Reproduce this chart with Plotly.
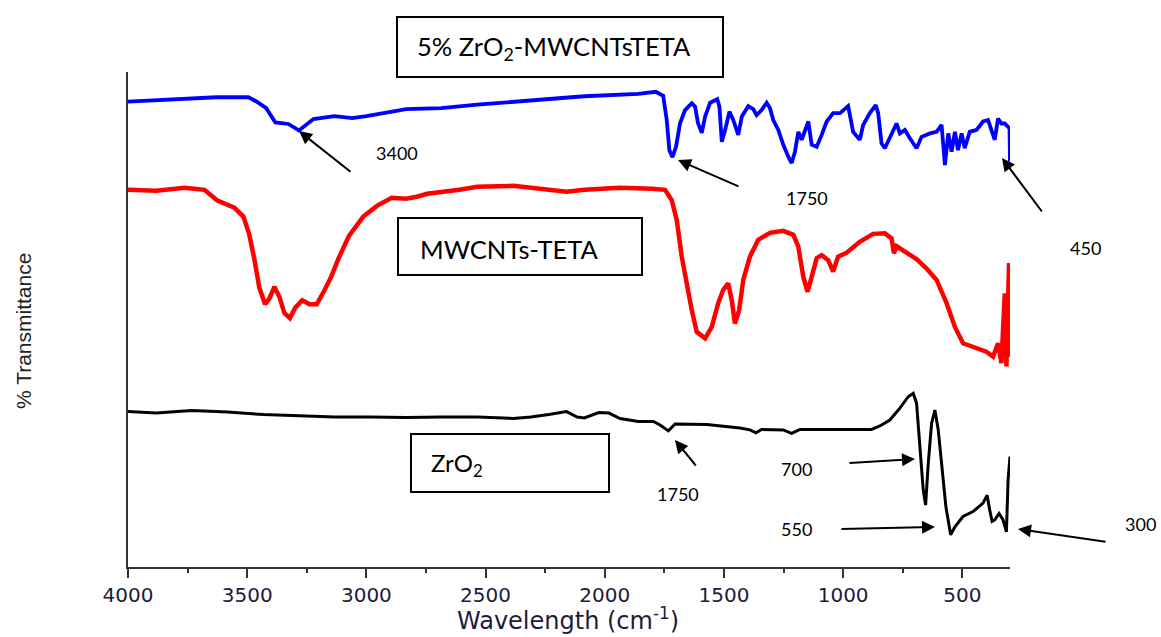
import plotly.graph_objects as go

# ---------------- data ----------------
wn_blue = [4000, 3629, 3495, 3463, 3420, 3382, 3327, 3283, 3222, 3134,
           3059, 3000, 2833, 2686, 2535, 2235, 2086, 1860, 1786, 1755,
           1740, 1729, 1716, 1701, 1684, 1663, 1635, 1621, 1609, 1593,
           1579, 1558, 1528, 1519, 1509, 1495, 1477, 1461, 1440, 1425,
           1398, 1377, 1363, 1342, 1321, 1307, 1293, 1272, 1251, 1230,
           1216, 1202, 1188, 1174, 1160, 1146, 1132, 1111, 1090, 1069,
           1042, 1013, 979, 972, 958, 930, 916, 888, 863, 853,
           839, 825, 804, 776, 762, 741, 720, 692, 671, 636,
           608, 587, 573, 559, 545, 531, 518, 503, 490, 469,
           440, 413, 392, 377, 364, 350, 336, 322, 302, 300]
t_blue = [94.0, 94.9, 94.9, 94.1, 92.7, 89.8, 89.5, 88.2, 90.5, 91.1,
          90.7, 91.1, 92.5, 92.7, 93.4, 94.5, 95.1, 95.6, 96.0, 95.2,
          90.3, 84.2, 82.8, 84.9, 89.7, 92.3, 93.7, 93.0, 89.7, 87.7,
          91.0, 93.8, 94.5, 93.0, 85.9, 88.3, 92.0, 90.3, 87.3, 91.0,
          93.1, 92.5, 91.3, 92.3, 93.8, 92.7, 90.3, 88.3, 85.3, 82.9,
          81.6, 83.9, 87.9, 86.3, 88.3, 90.0, 85.3, 84.9, 87.3, 90.0,
          91.7, 91.7, 93.1, 91.0, 87.9, 86.3, 89.3, 91.7, 93.3, 91.7,
          85.6, 84.6, 86.6, 89.6, 87.6, 88.3, 86.6, 84.6, 86.9, 87.6,
          87.9, 89.3, 81.2, 87.6, 83.9, 87.9, 84.2, 87.6, 84.6, 87.9,
          88.3, 90.0, 90.3, 88.3, 86.3, 90.6, 89.6, 89.6, 88.6, 81.9]

wn_red = [4000, 3882, 3763, 3679, 3627, 3554, 3516, 3492, 3470, 3449,
          3425, 3407, 3386, 3365, 3344, 3321, 3298, 3269, 3239, 3208,
          3178, 3148, 3118, 3073, 3013, 2954, 2894, 2834, 2789, 2745,
          2610, 2535, 2384, 2235, 2160, 2086, 1936, 1801, 1747, 1719,
          1698, 1677, 1656, 1635, 1614, 1579, 1551, 1524, 1503, 1482,
          1467, 1454, 1436, 1419, 1391, 1356, 1307, 1251, 1209, 1188,
          1167, 1149, 1132, 1111, 1090, 1063, 1042, 1021, 985, 930,
          874, 825, 797, 787, 776, 734, 692, 650, 608, 566,
          531, 497, 455, 399, 371, 350, 336, 322, 315, 304, 300]
t_red = [76.2, 76.0, 76.6, 76.2, 74.1, 72.6, 70.8, 67.3, 62.2, 56.4,
         53.1, 54.2, 56.6, 54.6, 51.3, 50.3, 52.4, 53.9, 53.1, 53.1,
         55.7, 58.6, 62.2, 66.9, 70.8, 73.0, 74.6, 74.4, 74.8, 75.4,
         76.2, 76.8, 77.0, 76.2, 75.8, 76.2, 76.6, 76.4, 76.2, 74.1,
         70.1, 62.7, 56.6, 51.9, 47.5, 46.2, 48.5, 53.3, 56.0, 57.3,
         53.9, 49.2, 51.9, 58.0, 62.7, 66.1, 67.5, 67.9, 67.1, 64.7,
         58.6, 55.6, 58.6, 62.4, 63.0, 62.0, 59.7, 62.7, 63.5, 65.7,
         67.3, 67.4, 66.4, 63.4, 64.8, 63.4, 62.2, 60.3, 58.0, 53.3,
         48.5, 45.2, 44.5, 43.5, 42.5, 45.2, 41.2, 55.3, 40.5, 61.4, 42.5]

wn_black = [4000, 3882, 3732, 3583, 3432, 3283, 3134, 2984, 2834, 2684,
            2535, 2384, 2310, 2235, 2160, 2116, 2086, 2025, 1982, 1936,
            1860, 1796, 1768, 1733, 1705, 1572, 1433, 1391, 1366, 1342,
            1251, 1216, 1181, 1013, 881, 846, 804, 762, 727, 706,
            692, 678, 664, 654, 643, 629, 615, 601, 587, 569,
            549, 531, 497, 455, 413, 396, 385, 375, 364, 346,
            329, 315, 308, 300]
t_black = [31.4, 31.1, 31.6, 31.3, 30.8, 30.6, 30.3, 30.3, 30.2, 30.3,
           30.3, 30.0, 30.3, 30.8, 31.4, 30.3, 30.1, 31.2, 31.1, 30.0,
           29.4, 29.4, 28.7, 27.5, 28.9, 28.8, 28.1, 27.7, 27.1, 27.8,
           27.7, 27.0, 27.8, 27.8, 27.8, 28.5, 29.7, 32.1, 34.4, 35.1,
           33.1, 24.3, 15.6, 12.5, 20.9, 29.0, 31.7, 27.7, 20.3, 12.2,
           6.5, 8.1, 10.2, 11.2, 12.9, 14.5, 11.5, 9.2, 9.5, 10.8,
           9.5, 7.1, 17.6, 22.3]

x_ticks = [4000, 3500, 3000, 2500, 2000, 1500, 1000, 500]
series_names = ["5% ZrO<sub>2</sub>-MWCNTsTETA", "MWCNTs-TETA", "ZrO<sub>2</sub>"]
peak_labels = ["3400", "1750", "450", "700", "550", "300", "1750"]

# ---------------- layout helpers (pixel -> paper) ----------------
W, H = 1161, 637
ML, MR, MT, MB = 128, 151, 72, 70
PW, PH = W - ML - MR, H - MT - MB


def fx(px):
    return (px - ML) / PW


def fy(py):
    return (H - MB - py) / PH


fig = go.Figure()
fig.add_trace(go.Scatter(x=wn_blue, y=t_blue, mode="lines", name=series_names[0],
                         line=dict(color="#0000ff", width=3.8)))
fig.add_trace(go.Scatter(x=wn_red, y=t_red, mode="lines", name=series_names[1],
                         line=dict(color="#ff0000", width=4.5)))
fig.add_trace(go.Scatter(x=wn_black, y=t_black, mode="lines", name=series_names[2],
                         line=dict(color="#000000", width=3)))

axis_col = "#333333"
fig.update_layout(
    width=W, height=H,
    margin=dict(l=ML, r=MR, t=MT, b=MB),
    paper_bgcolor="white", plot_bgcolor="white",
    showlegend=False,
    xaxis=dict(range=[4000, 300], tickvals=x_ticks, ticktext=[str(v) for v in x_ticks],
               ticks="outside", ticklen=9, tickwidth=1.5, tickcolor=axis_col,
               showline=True, linecolor=axis_col, linewidth=1.5,
               showgrid=False, zeroline=False,
               tickfont=dict(family="DejaVu Sans", size=20, color="#1c1c3c"),
               minor=dict(ticks="outside", ticklen=4, tickwidth=1.5, tickcolor=axis_col,
                          dtick=250, tick0=0, showgrid=False)),
    yaxis=dict(range=[0, 100], showline=True, linecolor=axis_col, linewidth=1.5,
               showticklabels=False, ticks="", showgrid=False, zeroline=False),
)

annotations = []
# axis titles
annotations.append(dict(text="Wavelength (cm<sup>-1</sup>)", xref="paper", yref="paper",
                        x=fx(568), y=fy(619), xanchor="center", yanchor="middle",
                        showarrow=False,
                        font=dict(family="DejaVu Sans", size=24, color="#1c1c3c")))
annotations.append(dict(text="% Transmittance", xref="paper", yref="paper",
                        x=fx(23), y=fy(331), xanchor="center", yanchor="middle",
                        textangle=-90, showarrow=False,
                        font=dict(family="Liberation Sans", size=21, color="#222222")))

# boxed series labels
boxes = [(397, 17, 723, 77), (398, 218, 642, 275), (411, 434, 609, 492)]
box_text_pos = [(415, 48), (418, 249), (429, 464)]
box_font = [25.5, 25.5, 24]
for (x0, y0, x1, y1) in boxes:
    fig.add_shape(type="rect", xref="paper", yref="paper",
                  x0=fx(x0), x1=fx(x1), y0=fy(y1), y1=fy(y0),
                  line=dict(color="black", width=2), fillcolor="rgba(0,0,0,0)")
for name, (tx, ty), fs in zip(series_names, box_text_pos, box_font):
    annotations.append(dict(text=name, xref="paper", yref="paper", x=fx(tx), y=fy(ty),
                            xanchor="left", yanchor="middle", showarrow=False,
                            font=dict(family="Lato", size=fs, color="black")))

# peak labels and arrows
label_pos = [(397, 153), (807, 198), (1085, 248), (796, 469), (796, 529), (1140, 524), (678, 494)]
arrows = [(352, 173, 299, 131), (740, 187, 678, 160), (1043, 213, 1002, 158),
          (848, 463, 915, 459), (840, 529, 935, 527), (1107, 542, 1018, 529),
          (697, 467, 675, 440)]
for txt, (tx, ty) in zip(peak_labels, label_pos):
    annotations.append(dict(text=txt, xref="paper", yref="paper", x=fx(tx), y=fy(ty),
                            xanchor="center", yanchor="middle", showarrow=False,
                            font=dict(family="Lato", size=18, color="black")))
for (x0, y0, x1, y1) in arrows:
    annotations.append(dict(text="", xref="paper", yref="paper", x=fx(x1), y=fy(y1),
                            ax=x0 - x1, ay=y0 - y1, axref="pixel", ayref="pixel",
                            showarrow=True, arrowhead=2, arrowsize=1.3, arrowwidth=2,
                            arrowcolor="black", standoff=0, startstandoff=0))

fig.update_layout(annotations=annotations)
fig.write_html("out.html", config={"displayModeBar": False},
               post_script="document.body.style.margin='0px';document.body.style.padding='0px';")
